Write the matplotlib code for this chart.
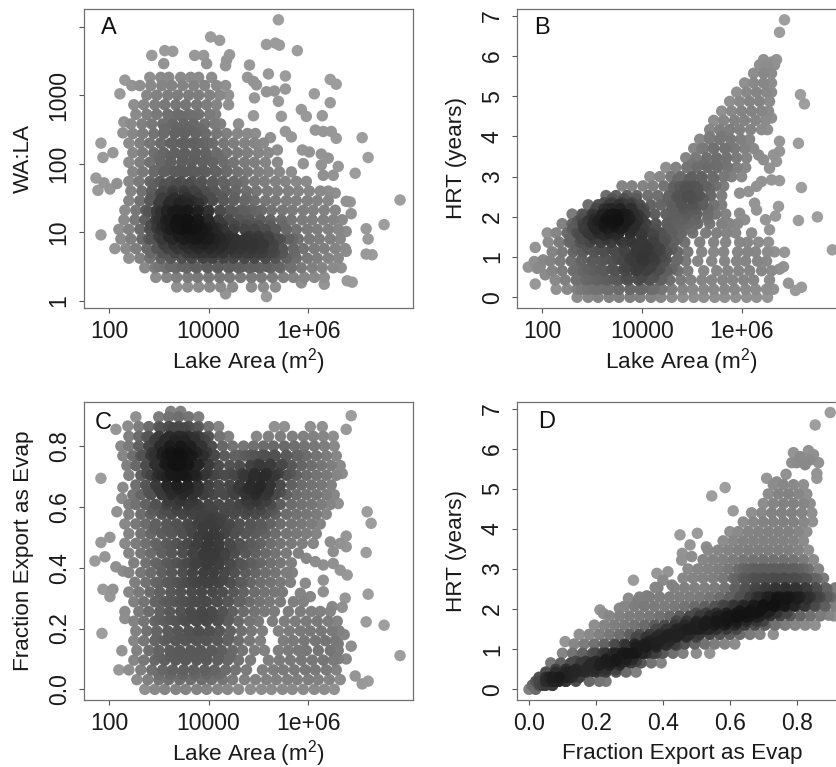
import numpy as np
from matplotlib import pyplot as plt

plt.rcParams['font.family'] = ['Liberation Sans', 'DejaVu Sans']
plt.rcParams['mathtext.default'] = 'regular'

# values: (area position or fraction, y) scattered lakes,
# then rows (y, [x, ...]) for the crowded parts, crowded layers stack up.
# area position v means lake area 10**(2*v - 2), so v=2 is 100 and v=3 is 10000
a_lone = [(3.70,4.10),(3.02,3.85),(3.11,3.80),(3.58,3.74),(3.67,3.76),(3.71,3.73),(3.89,3.65),(2.43,3.58),(2.55,3.46),(2.56,3.65),(2.64,3.64),(2.86,3.58),(2.95,3.58),(2.98,3.46),(3.21,3.59),(3.18,3.51),(3.17,3.43),(3.41,3.44),(3.60,3.31),(3.77,3.28),(3.39,3.26),(3.45,3.20),(3.48,3.15),(3.77,3.09),(3.58,3.05),(3.66,3.06),(3.70,2.91),(3.46,2.96),(3.45,2.70),(3.73,2.69),(4.22,3.23),(4.28,3.16),(4.06,3.02),(4.22,2.89),(3.93,2.79),(3.98,2.69),(4.14,2.70),(4.54,2.38),(4.60,2.09),(4.47,1.86),(4.92,1.47),(4.76,1.11),(4.58,1.05),(4.60,0.90),(4.58,0.68),(4.64,0.67),(4.39,0.29),(4.44,0.27),(4.38,1.45),(4.42,1.44),(4.43,1.27),(4.38,1.01),(4.38,0.72),(1.92,0.96),(1.92,2.30),(1.94,2.09),(2.04,2.16),(1.87,1.79),(1.95,1.72),(1.89,1.61),(2.01,1.63),(2.08,1.71),(2.11,3.02),(2.16,3.22),(2.15,2.61),(2.14,2.45),(3.58,0.06),(3.17,0.10),(3.93,0.26),(4.16,0.24),(3.69,2.20),(3.62,2.38),(3.77,2.47),(3.83,2.39),(3.94,2.20),(4.01,2.17),(4.07,2.49),(4.15,2.47),(4.23,2.47),(4.28,2.37),(4.13,2.14),(4.20,2.08),(3.95,2.00),(4.13,1.98),(4.30,1.96),(4.15,1.83),(4.25,1.83),(4.27,1.57)]
a_body = [
    (0.2,[2.68,2.79,2.9,3.01,3.12,3.24,3.43,3.55,3.67]),
    (0.34,[2.47,2.58,2.68,2.79,2.89,3.0,3.11,3.21,3.32,3.43,3.53,3.64,3.75,3.85,3.96,4.06,4.16]),
    (0.48,[2.36,2.46,2.57,2.67,2.78,2.88,2.99,3.09,3.2,3.3,3.41,3.51,3.62,3.72,3.83,3.93,4.04,4.14,4.25,4.33]),
    (0.62,[2.2,2.31,2.41,2.52,2.62,2.73,2.83,2.94,3.04,3.15,3.25,3.36,3.46,3.57,3.67,3.78,3.88,3.99,4.09,4.2,4.3]),
    (0.76,[2.06,2.17,2.27,2.38,2.48,2.59,2.69,2.8,2.9,3.01,3.11,3.22,3.32,3.43,3.53,3.64,3.74,3.85,3.95,4.06,4.16,4.27,4.37]),
    (0.9,[2.12,2.22,2.33,2.43,2.54,2.64,2.75,2.85,2.96,3.06,3.17,3.27,3.38,3.48,3.59,3.69,3.8,3.9,4.01,4.11,4.22,4.32]),
    (1.04,[2.1,2.2,2.31,2.41,2.52,2.62,2.73,2.83,2.94,3.04,3.15,3.25,3.36,3.46,3.57,3.67,3.78,3.88,3.99,4.09,4.2,4.3]),
    (1.18,[2.15,2.26,2.36,2.47,2.57,2.68,2.78,2.89,2.99,3.1,3.2,3.31,3.41,3.52,3.62,3.73,3.83,3.94,4.04,4.15,4.25,4.34]),
    (1.32,[2.16,2.27,2.37,2.48,2.58,2.69,2.79,2.9,3.0,3.11,3.21,3.32,3.42,3.53,3.63,3.74,3.84,3.95,4.05,4.16,4.27]),
    (1.46,[2.2,2.31,2.41,2.52,2.62,2.73,2.83,2.94,3.04,3.15,3.25,3.36,3.46,3.57,3.67,3.78,3.88,3.99,4.09,4.2]),
    (1.6,[2.22,2.33,2.43,2.54,2.64,2.75,2.85,2.96,3.06,3.17,3.27,3.38,3.48,3.59,3.69,3.8,3.9,4.01,4.12,4.2]),
    (1.74,[2.2,2.3,2.41,2.51,2.62,2.72,2.83,2.93,3.04,3.14,3.25,3.35,3.46,3.56,3.67,3.77,3.88,3.98]),
    (1.88,[2.24,2.34,2.45,2.55,2.66,2.76,2.87,2.97,3.08,3.18,3.29,3.39,3.5,3.6,3.71,3.83]),
    (2.02,[2.2,2.31,2.41,2.52,2.62,2.73,2.83,2.94,3.04,3.15,3.25,3.36,3.46,3.57,3.69]),
    (2.16,[2.24,2.34,2.45,2.55,2.66,2.76,2.87,2.97,3.08,3.18,3.29,3.39,3.5,3.6]),
    (2.3,[2.2,2.31,2.41,2.52,2.62,2.73,2.83,2.94,3.04,3.15,3.25,3.36,3.46,3.55]),
    (2.44,[2.24,2.34,2.45,2.55,2.66,2.76,2.87,2.97,3.08,3.18,3.29,3.39,3.47]),
    (2.58,[2.22,2.33,2.43,2.54,2.64,2.75,2.85,2.96,3.06,3.12,3.3]),
    (2.72,[2.27,2.38,2.48,2.59,2.69,2.8,2.9,3.01,3.07]),
    (2.86,[2.25,2.35,2.46,2.56,2.67,2.77,2.88,2.98,3.08,3.2]),
    (3.0,[2.38,2.48,2.59,2.69,2.8,2.9,3.01,3.11,3.2]),
    (3.14,[2.23,2.31,2.42,2.53,2.63,2.74,2.85,2.96,3.08,3.17]),
    (3.26,[2.41,2.52,2.6,2.72,2.82,2.9,3.03]),
]
a_mid = [
    (0.5,[2.5,2.62,2.74,2.86,2.98,3.1,3.22,3.34,3.46,3.58,3.7,3.82]),
    (0.7,[2.42,2.54,2.66,2.78,2.9,3.02,3.14,3.26,3.38,3.5,3.62,3.74,3.86]),
    (0.9,[2.4,2.52,2.64,2.76,2.88,3.0,3.12,3.24,3.36,3.48,3.6,3.72,3.84]),
    (1.1,[2.42,2.54,2.66,2.78,2.9,3.02,3.14,3.26,3.38,3.5,3.62,3.74]),
    (1.3,[2.4,2.52,2.64,2.76,2.88,3.0,3.12,3.24,3.36,3.48]),
    (1.5,[2.42,2.54,2.66,2.78,2.9,3.02,3.14,3.26,3.38]),
    (1.7,[2.44,2.56,2.68,2.8,2.92,3.04,3.16,3.28]),
    (1.9,[2.46,2.58,2.7,2.82,2.94,3.06,3.18]),
    (2.1,[2.5,2.62,2.74,2.86,2.98,3.1]),
    (2.3,[2.52,2.64,2.76,2.88,3.0]),
    (2.5,[2.56,2.68,2.8,2.92]),
    (2.7,[2.6,2.72,2.84]),
]
a_core = [
    (0.7,[2.85,2.95,3.05,3.15,3.3,3.42,3.54,3.66]),
    (0.82,[2.55,2.65,2.75,2.85,2.95,3.05,3.15,3.25,3.35,3.45,3.55,3.65]),
    (0.94,[2.5,2.6,2.7,2.8,2.9,3.0,3.1,3.2,3.4,3.5,3.6]),
    (1.06,[2.48,2.58,2.68,2.78,2.88,2.98,3.08]),
    (1.18,[2.5,2.6,2.7,2.8,2.9,3.0]),
    (1.3,[2.48,2.58,2.68,2.78,2.88,2.98]),
    (1.42,[2.5,2.6,2.7,2.8,2.9]),
    (1.56,[2.52,2.64,2.76,2.88]),
]

b_lone = [(4.43,6.90),(4.38,6.59),(4.59,5.04),(4.63,4.81),(4.57,3.83),(4.60,2.73),(4.76,2.00),(4.57,1.91),(4.91,1.18),(4.43,1.12),(4.42,0.76),(4.38,0.70),(4.47,0.35),(4.54,0.17),(4.60,0.25),(1.93,1.24),(1.93,0.33),(1.86,0.75),(1.92,0.89),(2.01,0.93),(1.95,0.72),(2.03,0.56),(1.98,0.76),(4.38,3.88),(4.38,3.63),(4.32,3.54),(4.35,3.38),(4.38,2.90),(4.30,2.92),(4.37,2.26),(4.34,2.02),(4.24,1.93),(4.28,1.68),(4.30,4.46),(4.22,3.42),(4.28,3.21),(4.17,3.54),(4.20,2.88),(4.15,2.76),(4.13,2.34),(4.15,2.17),(3.98,2.09),(4.03,1.93),(3.98,2.59),(4.07,2.63),(4.22,5.91),(4.3,5.85),(4.35,5.91)]
b_body = [
    (0.0,[2.35,2.46,2.56,2.67,2.77,2.88,2.98,3.09,3.19,3.3,3.41,3.52,3.62,3.73,3.83,3.94,4.05,4.15,4.26]),
    (0.2,[2.14,2.25,2.35,2.46,2.56,2.67,2.77,2.88,2.98,3.09,3.2,3.3,3.41,3.51,3.62,3.72,3.83,3.93,4.04,4.14,4.25,4.32]),
    (0.43,[2.13,2.23,2.34,2.44,2.55,2.65,2.76,2.86,2.97,3.07,3.18,3.28,3.39,3.49,3.6,3.7,3.81,3.91,4.02,4.12,4.28]),
    (0.66,[2.1,2.2,2.31,2.41,2.52,2.62,2.73,2.83,2.94,3.04,3.15,3.25,3.36,3.46,3.62,3.75,3.86,3.97,4.08,4.2,4.3]),
    (0.9,[2.08,2.18,2.29,2.39,2.5,2.6,2.71,2.81,2.92,3.02,3.13,3.23,3.34,3.44,3.56,3.7,3.83,3.95,4.04,4.16,4.25]),
    (1.13,[2.1,2.2,2.31,2.41,2.52,2.62,2.73,2.83,2.94,3.04,3.15,3.25,3.36,3.46,3.6,3.72,3.82,3.96,4.06,4.14,4.26,4.33]),
    (1.37,[2.06,2.17,2.27,2.38,2.48,2.59,2.69,2.8,2.9,3.01,3.11,3.22,3.32,3.43,3.58,3.72,3.84,3.98,4.06,4.17,4.27]),
    (1.6,[2.05,2.14,2.25,2.35,2.46,2.56,2.67,2.77,2.88,2.98,3.09,3.19,3.3,3.4,3.51,3.64,3.75,3.85,3.94,4.1]),
    (1.83,[2.2,2.3,2.41,2.51,2.62,2.72,2.83,2.93,3.04,3.14,3.25,3.35,3.46,3.56,3.68,3.8,3.88,3.96]),
    (2.07,[2.3,2.4,2.5,2.61,2.71,2.82,2.92,3.03,3.13,3.24,3.34,3.45,3.55,3.66,3.74,3.84]),
    (2.3,[2.46,2.56,2.67,2.77,2.88,2.98,3.09,3.19,3.3,3.4,3.51,3.61,3.72,3.8]),
    (2.53,[2.64,2.74,2.85,2.95,3.06,3.16,3.27,3.37,3.48,3.58,3.69,3.8]),
    (2.77,[2.8,2.9,3.01,3.11,3.22,3.32,3.43,3.53,3.64,3.74,3.82]),
    (3.0,[3.08,3.18,3.29,3.39,3.5,3.6,3.71,3.82,3.9,4.0]),
    (3.23,[3.24,3.34,3.45,3.55,3.66,3.76,3.86,3.95,4.04]),
    (3.47,[3.44,3.54,3.65,3.75,3.85,3.95,4.05]),
    (3.7,[3.52,3.62,3.72,3.83,3.93,4.03,4.12]),
    (3.93,[3.58,3.68,3.78,3.89,3.99,4.08]),
    (4.17,[3.68,3.78,3.88,3.98,4.09,4.2,4.26]),
    (4.4,[3.72,3.82,3.93,4.03,4.14,4.24]),
    (4.63,[3.8,3.9,4.0,4.1,4.2,4.27]),
    (4.87,[3.88,3.98,4.08,4.18,4.28]),
    (5.1,[3.95,4.05,4.15,4.25,4.3]),
    (5.33,[4.03,4.12,4.22,4.3]),
    (5.57,[4.12,4.22,4.3]),
    (5.78,[4.18,4.26,4.33]),
]
b_mid = [
    (0.2,[2.4,2.52,2.64,2.76,2.88,3.0,3.12]),
    (0.45,[2.36,2.48,2.6,2.72,2.84,2.96,3.08,3.2]),
    (0.7,[2.34,2.46,2.58,2.7,2.82,2.94,3.06,3.18,3.3]),
    (0.95,[2.4,2.52,2.64,2.76,2.88,3.0,3.12,3.24,3.36]),
    (1.2,[2.34,2.46,2.58,2.7,2.82,2.94,3.06,3.18,3.3]),
    (1.45,[2.28,2.4,2.52,2.64,2.76,2.88,3.0,3.12,3.24,3.36]),
    (1.7,[2.3,2.42,2.54,2.66,2.78,2.9,3.02,3.14,3.26,3.38,3.5]),
    (1.95,[2.4,2.52,2.64,2.76,2.88,3.0,3.3,3.42,3.54,3.66]),
    (2.2,[2.54,2.66,2.78,2.9,3.02,3.3,3.42,3.54,3.66]),
    (2.45,[2.7,2.82,2.94,3.26,3.38,3.5,3.62]),
    (2.7,[3.32,3.44,3.56,3.68]),
    (2.95,[3.36,3.48,3.6,3.72]),
    (3.3,[3.5,3.62,3.74,3.84]),
    (3.7,[3.6,3.72,3.84]),
    (4.0,[3.68,3.8]),
]
b_core = [
    (0.5,[2.85,3.0,3.12]),
    (0.75,[2.85,2.97,3.09]),
    (1.0,[2.9,3.0,3.1,3.2]),
    (1.25,[2.95,3.05,3.15]),
    (1.55,[2.38,2.5,2.62,2.74,3.0,3.12]),
    (1.75,[2.32,2.42,2.52,2.62,2.72,2.82,2.92]),
    (1.9,[2.36,2.46,2.56,2.66,2.76,2.86,2.96]),
    (2.05,[2.42,2.52,2.6,2.68,2.76,2.86,2.96]),
    (2.2,[2.54,2.62,2.7,2.78,2.88,2.98]),
    (2.35,[2.62,2.7,2.8,2.9]),
    (2.5,[3.35,3.45,3.55]),
    (2.75,[3.38,3.48]),
]

c_lone = [(4.43,0.90),(4.38,0.855),(2.27,0.896),(2.19,0.866),(2.07,0.855),(1.92,0.694),(2.14,0.664),(2.13,0.628),(2.08,0.584),(1.92,0.483),(2.01,0.50),(1.86,0.422),(1.96,0.436),(2.07,0.403),(2.14,0.389),(1.94,0.329),(2.04,0.329),(2.01,0.305),(1.93,0.184),(2.13,0.127),(2.16,0.233),(4.59,0.584),(4.63,0.546),(4.58,0.45),(4.6,0.313),(4.58,0.222),(4.76,0.211),(4.92,0.111),(4.43,0.142),(4.47,0.044),(4.54,0.018),(4.6,0.027),(4.38,0.504),(4.39,0.376),(4.37,0.30),(4.34,0.27),(4.24,0.272),(4.3,0.611),(4.34,0.71),(4.22,0.485),(4.32,0.48),(4.25,0.453),(4.38,0.469),(3.98,0.431),(4.07,0.42),(4.15,0.409),(4.25,0.414),(4.32,0.392),(4.15,0.359),(4.15,0.321),(3.97,0.349),(4.02,0.305),(3.92,0.316),(4.36,0.18),(4.3,0.15),(4.3,0.1),(4.38,0.1)]
c_body = [
    (0.0,[2.36,2.46,2.56,2.67,2.77,2.88,2.98,3.09,3.19,3.3,3.42,3.53,3.63,3.74,3.84,3.95,4.06,4.16,4.26]),
    (0.032,[2.28,2.39,2.5,2.6,2.71,2.82,2.93,3.03,3.14,3.24,3.36,3.47,3.58,3.68,3.79,3.89,4.0,4.1,4.21,4.32]),
    (0.064,[2.1,2.2,2.32,2.43,2.54,2.64,2.75,2.85,2.96,3.06,3.17,3.27,3.38,3.54,3.65,3.75,3.86,3.97,4.07,4.18,4.28]),
    (0.096,[2.25,2.35,2.46,2.56,2.67,2.77,2.88,2.98,3.09,3.19,3.3,3.42,3.6,3.71,3.82,3.93,4.04,4.15,4.25]),
    (0.128,[2.28,2.4,2.5,2.61,2.71,2.82,2.92,3.03,3.13,3.24,3.34,3.46,3.56,3.7,3.8,3.9,3.98,4.1,4.22,4.3]),
    (0.16,[2.25,2.35,2.46,2.56,2.67,2.77,2.88,2.98,3.09,3.19,3.3,3.41,3.52,3.75,3.85,3.96,4.07,4.17,4.27]),
    (0.192,[2.27,2.38,2.48,2.59,2.69,2.8,2.9,3.01,3.11,3.22,3.33,3.43,3.54,3.7,3.81,3.92,4.02,4.13,4.24,4.31]),
    (0.224,[2.25,2.35,2.46,2.56,2.67,2.77,2.88,2.98,3.09,3.19,3.3,3.41,3.5,3.64,3.76,3.87,3.98,4.09,4.2,4.29]),
    (0.256,[2.16,2.3,2.4,2.51,2.61,2.72,2.82,2.93,3.03,3.14,3.24,3.35,3.46,3.56,3.66,3.8,3.92,4.03,4.12,4.22]),
    (0.288,[2.25,2.35,2.46,2.56,2.67,2.77,2.88,2.98,3.09,3.19,3.3,3.41,3.51,3.61,3.72,3.85,3.95]),
    (0.32,[2.2,2.3,2.41,2.51,2.62,2.72,2.83,2.93,3.04,3.14,3.25,3.35,3.46,3.56,3.66,3.74]),
    (0.352,[2.26,2.37,2.47,2.58,2.68,2.79,2.89,3.0,3.1,3.21,3.31,3.42,3.52,3.62,3.72,3.82]),
    (0.384,[2.2,2.32,2.42,2.53,2.63,2.74,2.84,2.95,3.05,3.16,3.26,3.37,3.47,3.57,3.67,3.78,3.84]),
    (0.416,[2.25,2.37,2.47,2.58,2.68,2.79,2.89,3.0,3.1,3.21,3.31,3.42,3.52,3.62,3.72,3.83]),
    (0.448,[2.2,2.32,2.42,2.53,2.63,2.74,2.84,2.95,3.05,3.16,3.26,3.37,3.47,3.57,3.67,3.78,3.9]),
    (0.48,[2.16,2.27,2.37,2.47,2.58,2.68,2.79,2.89,3.0,3.1,3.21,3.31,3.42,3.52,3.62,3.72,3.83,3.94,4.05]),
    (0.512,[2.2,2.32,2.42,2.53,2.63,2.74,2.84,2.95,3.05,3.16,3.26,3.37,3.47,3.57,3.67,3.78,3.88,3.98,4.08]),
    (0.544,[2.16,2.27,2.37,2.47,2.58,2.68,2.79,2.89,3.0,3.1,3.21,3.31,3.42,3.52,3.62,3.72,3.83,3.93,4.03,4.12]),
    (0.576,[2.2,2.32,2.42,2.53,2.63,2.74,2.84,2.95,3.05,3.16,3.26,3.37,3.47,3.57,3.67,3.78,3.88,3.98,4.08,4.18]),
    (0.608,[2.2,2.27,2.37,2.47,2.58,2.68,2.79,2.89,3.0,3.1,3.21,3.31,3.42,3.52,3.62,3.72,3.83,3.93,4.03,4.13,4.22]),
    (0.64,[2.24,2.32,2.42,2.53,2.63,2.74,2.84,2.95,3.05,3.16,3.26,3.37,3.47,3.57,3.67,3.78,3.88,3.98,4.08,4.18,4.26]),
    (0.672,[2.27,2.37,2.47,2.58,2.68,2.79,2.89,3.0,3.1,3.21,3.31,3.42,3.52,3.62,3.72,3.83,3.93,4.03,4.13,4.23]),
    (0.704,[2.2,2.32,2.42,2.53,2.63,2.74,2.84,2.95,3.05,3.16,3.26,3.37,3.47,3.57,3.67,3.78,3.88,3.98,4.08,4.18,4.28]),
    (0.736,[2.18,2.27,2.37,2.47,2.58,2.68,2.79,2.89,3.0,3.1,3.21,3.31,3.42,3.52,3.62,3.72,3.83,3.93,4.03,4.13,4.23,4.32]),
    (0.768,[2.14,2.24,2.32,2.42,2.53,2.63,2.74,2.84,2.95,3.05,3.16,3.26,3.37,3.47,3.57,3.67,3.78,3.88,3.98,4.08,4.18,4.28]),
    (0.8,[2.12,2.2,2.3,2.4,2.51,2.61,2.72,2.82,2.93,3.03,3.14,3.24,3.35,3.45,3.55,3.65,3.76,3.86,3.96,4.06,4.16,4.26]),
    (0.832,[2.2,2.3,2.4,2.5,2.6,2.7,2.8,2.9,3.0,3.11,3.2,3.48,3.6,3.72,3.84,3.95,4.05,4.15,4.25]),
    (0.864,[2.3,2.4,2.5,2.6,2.7,2.8,2.9,3.0,3.1,3.66,3.76,4.02,4.14]),
    (0.896,[2.5,2.6,2.7,2.8,2.9]),
    (0.914,[2.62,2.72]),
]
c_mid = [
    (0.05,[2.5,2.62,2.74,2.86,2.98,3.1]),
    (0.11,[2.5,2.62,2.74,2.86,2.98,3.1,3.22]),
    (0.17,[2.48,2.6,2.72,2.84,2.96,3.08,3.2]),
    (0.23,[2.5,2.62,2.74,2.86,2.98,3.1,3.2]),
    (0.29,[2.48,2.6,2.72,2.84,2.96,3.08,3.2,3.32]),
    (0.35,[2.5,2.62,2.74,2.86,2.98,3.1,3.22,3.34]),
    (0.41,[2.5,2.62,2.74,2.86,2.98,3.1,3.22,3.34,3.46]),
    (0.47,[2.5,2.62,2.74,2.86,2.98,3.1,3.22,3.34,3.46]),
    (0.53,[2.46,2.58,2.7,2.82,2.94,3.06,3.18,3.3,3.42,3.54]),
    (0.59,[2.44,2.56,2.68,2.8,2.92,3.04,3.16,3.28,3.4,3.52,3.64]),
    (0.65,[2.4,2.52,2.64,2.76,2.88,3.0,3.12,3.24,3.36,3.48,3.6,3.72]),
    (0.71,[2.38,2.5,2.62,2.74,2.86,2.98,3.1,3.22,3.34,3.46,3.58,3.7,3.82]),
    (0.77,[2.34,2.46,2.58,2.7,2.82,2.94,3.06,3.3,3.42,3.54,3.66,3.78,3.9]),
    (0.83,[2.38,2.5,2.62,2.74,2.86,2.98]),
]
c_core = [
    (0.24,[2.84,2.94,3.04]),
    (0.36,[2.84,2.94,3.04,3.14]),
    (0.44,[2.86,2.96,3.06,3.16]),
    (0.5,[2.9,3.0,3.1]),
    (0.56,[2.92,3.02,3.12]),
    (0.62,[2.6,2.72,2.84,3.38,3.48,3.58]),
    (0.66,[2.5,2.6,2.7,2.8,2.9,3.3,3.4,3.5,3.6]),
    (0.7,[2.48,2.58,2.68,2.78,2.88,3.35,3.45,3.55,3.65]),
    (0.74,[2.46,2.56,2.64,2.72,2.8,2.9,3.0,3.5,3.62,3.74]),
    (0.78,[2.44,2.54,2.62,2.7,2.78,2.88,2.98]),
    (0.82,[2.46,2.56,2.66,2.76,2.86,2.96]),
    (0.86,[2.52,2.64,2.76,2.88]),
]

d_lone = [(0.90,6.90),(0.855,6.59),(0.546,4.82),(0.586,5.03),(0.451,3.85),(0.503,3.89),(0.312,2.72),(0.895,1.85),(0.108,1.19),(0.212,1.98),(0.222,1.89),(0.27,2.02),(0.297,2.27),(0.325,2.21),(0.352,2.33),(0.377,2.54),(0.382,2.89),(0.415,2.93),(0.40,2.72),(0.427,2.60),(0.61,4.45),(0.71,5.26),(0.74,5.17),(0.768,5.36),(0.86,5.26),(0.86,5.38),(0.847,4.18),(0.481,3.60),(0.458,3.39),(0.456,3.22),(0.486,3.31),(0.53,3.55),(0.79,5.9),(0.81,5.8),(0.835,5.95),(0.85,5.85),(0.865,5.65),(0.825,5.6),(0.8,5.65),(0.84,5.72),(0.785,5.65)]
d_body = [
    (0.0,[0.0,0.02]),
    (0.2,[0.02,0.05,0.08,0.11,0.14,0.18,0.21,0.23]),
    (0.43,[0.05,0.08,0.11,0.14,0.17,0.2,0.23,0.26,0.29,0.32]),
    (0.66,[0.065,0.095,0.125,0.155,0.185,0.215,0.245,0.275,0.305,0.335,0.365,0.395]),
    (0.9,[0.1,0.13,0.16,0.19,0.22,0.25,0.28,0.31,0.34,0.37,0.4,0.43,0.46,0.5,0.54]),
    (1.13,[0.135,0.165,0.195,0.225,0.255,0.285,0.315,0.345,0.375,0.405,0.435,0.465,0.495,0.525,0.555,0.585,0.615]),
    (1.37,[0.15,0.18,0.21,0.24,0.27,0.3,0.33,0.36,0.39,0.42,0.45,0.48,0.51,0.54,0.57,0.6,0.63,0.66,0.69,0.73]),
    (1.6,[0.195,0.225,0.255,0.285,0.315,0.345,0.375,0.405,0.435,0.465,0.495,0.525,0.555,0.585,0.615,0.645,0.675,0.705,0.735,0.765,0.795,0.825,0.855]),
    (1.83,[0.24,0.27,0.3,0.33,0.36,0.39,0.42,0.45,0.48,0.51,0.54,0.57,0.6,0.63,0.66,0.69,0.72,0.75,0.78,0.81,0.84,0.87,0.91]),
    (2.07,[0.285,0.315,0.345,0.375,0.405,0.435,0.465,0.495,0.525,0.555,0.585,0.615,0.645,0.675,0.705,0.735,0.765,0.795,0.825,0.855,0.885,0.915]),
    (2.3,[0.33,0.36,0.39,0.42,0.45,0.48,0.51,0.54,0.57,0.6,0.63,0.66,0.69,0.72,0.75,0.78,0.81,0.84,0.87,0.9,0.93]),
    (2.53,[0.385,0.435,0.465,0.495,0.525,0.555,0.585,0.615,0.645,0.675,0.705,0.735,0.765,0.795,0.825,0.855,0.885,0.915]),
    (2.77,[0.46,0.49,0.52,0.55,0.58,0.61,0.64,0.67,0.7,0.73,0.76,0.79,0.82,0.85,0.88]),
    (3.0,[0.475,0.505,0.535,0.565,0.595,0.625,0.655,0.685,0.715,0.745,0.775,0.805,0.835,0.865]),
    (3.23,[0.52,0.55,0.58,0.61,0.64,0.67,0.7,0.73,0.76,0.79,0.82,0.85]),
    (3.47,[0.535,0.565,0.595,0.625,0.655,0.685,0.715,0.745,0.775,0.805,0.835]),
    (3.7,[0.58,0.61,0.64,0.67,0.7,0.73,0.76,0.79,0.82]),
    (3.93,[0.6,0.625,0.655,0.685,0.715,0.745,0.775,0.805,0.83]),
    (4.17,[0.64,0.67,0.7,0.73,0.76,0.79,0.82]),
    (4.4,[0.665,0.695,0.725,0.755,0.785,0.815,0.845]),
    (4.63,[0.7,0.73,0.76,0.79,0.82,0.84]),
    (4.87,[0.715,0.745,0.775,0.805,0.83]),
    (5.1,[0.73,0.76,0.79,0.82]),
]
d_mid = [
    (0.1,[0.01,0.04,0.07]),
    (0.3,[0.03,0.06,0.09,0.12,0.15]),
    (0.5,[0.08,0.11,0.14,0.17,0.2,0.23,0.26]),
    (0.7,[0.14,0.17,0.2,0.23,0.26,0.29,0.32]),
    (0.9,[0.2,0.23,0.26,0.29,0.32,0.35,0.38]),
    (1.1,[0.26,0.29,0.32,0.35,0.38,0.41,0.44]),
    (1.3,[0.32,0.35,0.38,0.41,0.44,0.47,0.5]),
    (1.5,[0.38,0.41,0.44,0.47,0.5,0.53,0.56,0.59,0.62]),
    (1.7,[0.44,0.47,0.5,0.53,0.56,0.59,0.62,0.65,0.68,0.7]),
    (1.9,[0.5,0.53,0.56,0.59,0.62,0.65,0.68,0.71,0.74,0.77]),
    (2.1,[0.58,0.61,0.64,0.67,0.7,0.73,0.76,0.79,0.82,0.85,0.88]),
    (2.3,[0.68,0.71,0.74,0.77,0.8,0.83,0.86,0.89,0.92]),
    (2.5,[0.62,0.65,0.68,0.71,0.74,0.77,0.8,0.83,0.86,0.89,0.92]),
    (2.75,[0.62,0.65,0.68,0.71,0.74,0.77,0.8,0.83,0.86]),
    (3.0,[0.64,0.67,0.7,0.73,0.76,0.79,0.82]),
]
d_core = [
    (0.1,[0.01,0.03,0.05,0.07]),
    (0.2,[0.03,0.05,0.07,0.09,0.11]),
    (0.3,[0.05,0.07,0.09,0.11,0.13,0.15]),
    (0.45,[0.13,0.16,0.19,0.22]),
    (0.6,[0.18,0.21,0.24,0.27]),
    (0.75,[0.23,0.26,0.29,0.31]),
    (0.9,[0.28,0.31,0.34]),
    (1.05,[0.32,0.35,0.38]),
    (1.2,[0.36,0.39,0.42]),
    (1.35,[0.41,0.44,0.47]),
    (1.5,[0.45,0.48,0.51,0.54]),
    (1.65,[0.5,0.53,0.56,0.59,0.62]),
    (1.8,[0.56,0.59,0.62,0.65,0.68]),
    (1.95,[0.63,0.66,0.69,0.72]),
    (2.1,[0.7,0.73,0.76,0.79,0.82]),
    (2.25,[0.74,0.77,0.8,0.83]),
]

area_ticks = [100, 10000, 1000000]
area_labels = ['100', '10000', '1e+06']
wala_ticks = [1, 10, 100, 1000, 10000]
wala_labels = ['1', '10', '100', '1000', '']
hrt_ticks = [0, 1, 2, 3, 4, 5, 6, 7]
frac_ticks = [0.0, 0.2, 0.4, 0.6, 0.8]
frac_labels = ['0.0', '0.2', '0.4', '0.6', '0.8']

area_lim = (10**1.5, 10**8.1)
W, H = 836, 767


def gather(lone, *layers):
    x = [p[0] for p in lone]
    y = [p[1] for p in lone]
    for rows in layers:
        for yy, row in rows:
            x += row
            y += [yy] * len(row)
    return np.array(x), np.array(y)


def area(v):
    return 10**(2 * v - 2)


def scatter_dens(ax, x, y, sx, sy, px, py):
    # darker where the lakes crowd, like densCols in R
    dx = (x[:, None] - x[None, :]) / sx
    dy = (y[:, None] - y[None, :]) / sy
    d = np.exp(-0.5 * (dx**2 + dy**2)).sum(axis=1)
    d = (d - d.min()) / (d.max() - d.min())
    grey = 0.62 - 0.55 * d**1.4
    o = np.argsort(d)
    ax.scatter(px[o], py[o], s=68, c=grey[o], cmap='gray', vmin=0, vmax=1,
               linewidths=0, clip_on=True)


def make_axes(left, top, right, bottom):
    ax = fig.add_axes([left / W, 1 - bottom / H, (right - left) / W, (bottom - top) / H])
    for s in ax.spines.values():
        s.set_color('#707070')
        s.set_linewidth(0.9)
    ax.tick_params(length=3.6, width=0.8, color='#555555', labelsize=16.6, labelcolor='#1a1a1a')
    ax.tick_params(axis='x', pad=5)
    ax.tick_params(axis='y', pad=6)
    return ax


def finish(ax, letter, lx, ly, xlabel, ylabel):
    ax.set_xlabel(xlabel, fontsize=16.2, color='#1a1a1a', va='center')
    ax.set_ylabel(ylabel, fontsize=16.2, color='#1a1a1a', va='center')
    ax.xaxis.set_label_coords(0.5, -0.18)
    ax.yaxis.set_label_coords(-0.185, 0.5)
    for t in ax.get_yticklabels():
        t.set_rotation(90)
        t.set_va('center')
    ax.text(lx, ly, letter, transform=ax.transAxes, fontsize=17, color='#111111',
            ha='center', va='center', zorder=5)


fig = plt.figure(figsize=(W / 100, H / 100), dpi=100)

ax = make_axes(84, 9, 413, 308)
x, y = gather(a_lone, a_body, a_mid, a_core)
scatter_dens(ax, x, y, 0.14, 0.19, area(x), 10**y)
ax.set_xscale('log')
ax.set_yscale('log')
ax.set_xlim(area_lim)
ax.set_ylim(10**-0.107, 10**4.258)
ax.set_xticks(area_ticks, area_labels)
ax.set_yticks(wala_ticks, wala_labels)
ax.minorticks_off()
finish(ax, 'A', 0.076, 0.936, 'Lake Area (m$^2$)', 'WA:LA')

ax = make_axes(517.3, 9, 846.3, 308)
x, y = gather(b_lone, b_body, b_mid, b_core)
scatter_dens(ax, x, y, 0.14, 0.33, area(x), y)
ax.set_xscale('log')
ax.set_xlim(area_lim)
ax.set_ylim(-0.266, 7.17)
ax.set_xticks(area_ticks, area_labels)
ax.set_yticks(hrt_ticks, [str(v) for v in hrt_ticks])
ax.minorticks_off()
finish(ax, 'B', 0.076, 0.936, 'Lake Area (m$^2$)', 'HRT (years)')

ax = make_axes(84, 401.7, 413, 700)
x, y = gather(c_lone, c_body, c_mid, c_core)
scatter_dens(ax, x, y, 0.14, 0.045, area(x), y)
ax.set_xscale('log')
ax.set_xlim(area_lim)
ax.set_ylim(-0.035, 0.946)
ax.set_xticks(area_ticks, area_labels)
ax.set_yticks(frac_ticks, frac_labels)
ax.minorticks_off()
finish(ax, 'C', 0.058, 0.93, 'Lake Area (m$^2$)', 'Fraction Export as Evap')

ax = make_axes(517.3, 401.7, 846.3, 700)
x, y = gather(d_lone, d_body, d_mid, d_core)
scatter_dens(ax, x, y, 0.035, 0.25, x, y)
ax.set_xlim(-0.035, 0.948)
ax.set_ylim(-0.266, 7.17)
ax.set_xticks(frac_ticks, frac_labels)
ax.set_yticks(hrt_ticks, [str(v) for v in hrt_ticks])
finish(ax, 'D', 0.088, 0.933, 'Fraction Export as Evap', 'HRT (years)')

plt.savefig('out.png', dpi=100)
